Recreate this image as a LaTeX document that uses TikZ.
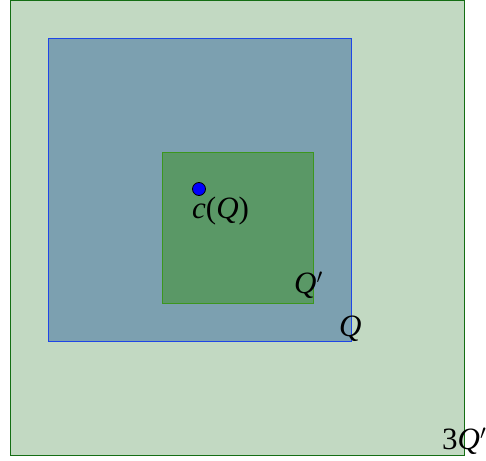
\documentclass[tikz,border=0pt]{standalone}
\usepackage{fontspec}
\setmainfont{Liberation Serif}
\begin{document}
\begin{tikzpicture}[x=1pt,y=-1pt,
  lbl/.style={anchor=base west,inner sep=0pt,font=\fontsize{31}{36}\selectfont}]
\useasboundingbox (0,0) rectangle (486,460);
\definecolor{outerfill}{RGB}{194,217,194}
\definecolor{outerline}{RGB}{20,110,20}
\definecolor{bluefill}{RGB}{124,160,176}
\definecolor{blueline}{RGB}{30,70,230}
\definecolor{innerfill}{RGB}{90,152,102}
\definecolor{innerline}{RGB}{60,150,30}
\path[fill=outerfill,draw=outerline,line width=1pt] (10,1) rectangle (464,455);
\path[fill=bluefill,draw=blueline,line width=1pt] (48,39) rectangle (351,341);
\path[fill=innerfill,draw=innerline,line width=1pt] (162,152) rectangle (313,303);
\node[circle,fill=blue,draw=black,line width=0.8pt,minimum size=13pt,inner sep=0pt] (c) at (199,189) {};
\node[lbl] (lc) at (192,218) {\textit{c}(\textit{Q})};
\node[lbl] (lq1) at (294,293) {\textit{Q}$'$};
\node[lbl] (lq) at (339,336) {\textit{Q}};
\node[lbl] (l3) at (442,449) {3\textit{Q}$'$};
\end{tikzpicture}
\end{document}
